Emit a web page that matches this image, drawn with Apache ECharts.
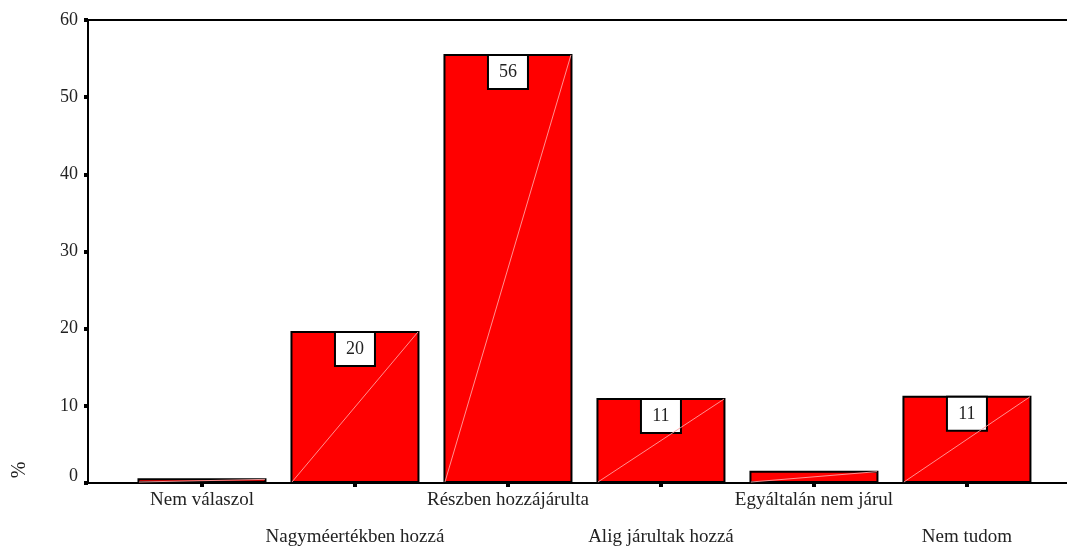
<!DOCTYPE html>
<html>
<head>
<meta charset="utf-8">
<script src="https://cdn.jsdelivr.net/npm/echarts@6/dist/echarts.min.js"></script>
<style>
html,body{margin:0;padding:0;background:#fff;}
#chart{width:1067px;height:549px;}
</style>
</head>
<body>
<div id="chart"></div>
<script>
var categories = ['Nem válaszol', 'Nagyméertékben hozzá', 'Részben hozzájárulta', 'Alig járultak hozzá', 'Egyáltalán nem járul', 'Nem tudom'];
var values = [0.6, 19.7, 55.6, 11.0, 1.6, 11.3];
var yTicks = [0, 10, 20, 30, 40, 50, 60];
var yAxisName = '%';

var FONT = 'Liberation Serif';
var positions = categories.map(function (c, i) { return i; });
var barData = values.map(function (v, i) {
  return { value: [i, v], label: { show: v >= 5 } };
});

var chart = echarts.init(document.getElementById('chart'));
chart.setOption({
  animation: false,
  backgroundColor: '#fff',
  grid: { left: 88, right: 0, top: 20, bottom: 66, containLabel: false },
  xAxis: [{
    type: 'value',
    min: -0.745,
    max: 5.654,
    splitLine: { show: false },
    axisLine: { show: true, onZero: false, lineStyle: { color: '#000', width: 2 } },
    axisTick: { show: true, customValues: positions, length: 4, lineStyle: { color: '#000', width: 4 } },
    axisLabel: {
      show: true,
      customValues: positions,
      hideOverlap: false,
      margin: 8,
      verticalAlign: 'top',
      fontFamily: FONT,
      fontSize: 19,
      color: '#222',
      formatter: function (v) {
        var i = Math.round(v);
        var name = categories[i] || '';
        return i % 2 === 0 ? '{a|' + name + '}' : '{s|}\n{a|' + name + '}';
      },
      rich: {
        a: { fontFamily: FONT, fontSize: 19, color: '#222', lineHeight: 19 },
        s: { fontFamily: FONT, fontSize: 19, lineHeight: 37 }
      }
    }
  }, {
    type: 'value',
    position: 'top',
    min: -0.745,
    max: 5.654,
    splitLine: { show: false },
    axisLine: { show: true, onZero: false, lineStyle: { color: '#000', width: 2 } },
    axisTick: { show: false },
    axisLabel: { show: false }
  }],
  yAxis: {
    type: 'value',
    min: 0,
    max: 60,
    interval: 10,
    splitLine: { show: false },
    axisLine: { show: true, onZero: false, lineStyle: { color: '#000', width: 2 } },
    axisTick: { show: true, length: 4, lineStyle: { color: '#000', width: 4 } },
    axisLabel: {
      margin: 10,
      fontFamily: FONT,
      fontSize: 18,
      color: '#222',
      formatter: function (v) {
        return v === 0 ? '{z|0}' : '' + v;
      },
      rich: {
        z: { fontFamily: FONT, fontSize: 18, color: '#222', padding: [0, 0, 14, 0] }
      }
    }
  },
  graphic: [{
    type: 'text',
    x: 20,
    y: 470,
    rotation: Math.PI / 2,
    style: { text: yAxisName, font: '20px "Liberation Serif"', fill: '#222', textAlign: 'center', textVerticalAlign: 'middle' }
  }],
  series: [{
    type: 'bar',
    barWidth: 129,
    data: barData,
    itemStyle: { color: '#ff0000', borderColor: '#000', borderWidth: 2 },
    label: {
      position: 'insideTop',
      distance: 2,
      formatter: function (p) { return '' + Math.round(p.value[1]); },
      fontFamily: FONT,
      fontSize: 18,
      color: '#222',
      backgroundColor: '#fff',
      borderColor: '#000',
      borderWidth: 2,
      width: 38,
      height: 32,
      lineHeight: 32
    }
  }, {
    type: 'custom',
    data: values.map(function (v, i) { return [i, v]; }),
    z: 3,
    silent: true,
    renderItem: function (params, api) {
      var p0 = api.coord([api.value(0), 0]);
      var p1 = api.coord([api.value(0), api.value(1)]);
      var half = 63;
      return {
        type: 'line',
        shape: { x1: p0[0] - half, y1: p0[1] - 1, x2: p0[0] + half, y2: p1[1] + 1 },
        style: { stroke: 'rgba(255,160,160,0.9)', lineWidth: 1 }
      };
    }
  }]
});
</script>
</body>
</html>
